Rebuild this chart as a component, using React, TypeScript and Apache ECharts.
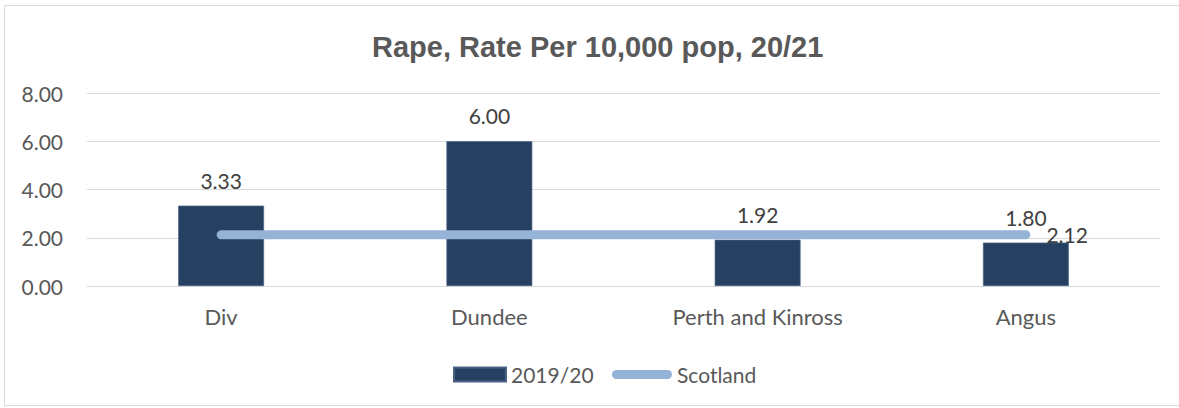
import React, { useEffect, useRef } from "react";
import * as echarts from "echarts";

const titleText = "Rape, Rate Per 10,000 pop, 20/21";
const categories = ["Div", "Dundee", "Perth and Kinross", "Angus"];
const barName = "2019/20";
const barValues = [3.33, 6.0, 1.92, 1.8];
const lineName = "Scotland";
const scotlandValues = [2.12, 2.12, 2.12, 2.12];
const yTicks = { min: 0, max: 8, interval: 2 };

const FONT = "Lato";
const TEXT = "#595959";
const LABEL = "#404040";
const BAR = "#264061";
const LINE = "#95B3D7";
const GRIDC = "#d9d9d9";

export default function App() {
  const ref = useRef<HTMLDivElement>(null);
  useEffect(() => {
    if (!ref.current) return;
    const chart = echarts.init(ref.current, null, { renderer: "svg" });
    const last = scotlandValues.length - 1;
    chart.setOption({
      animation: false,
      backgroundColor: "#ffffff",
      title: {
        text: titleText,
        left: 367,
        top: 27,
        textStyle: { fontFamily: "Liberation Sans", fontWeight: "bold", fontSize: 29, color: TEXT },
      },
      graphic: [
        {
          type: "rect",
          shape: { x: 4.5, y: 5.5, width: 1200, height: 400 },
          style: { fill: "none", stroke: GRIDC, lineWidth: 1 },
          silent: true,
        },
      ],
      legend: [
        {
          data: [{ name: barName, icon: "rect" }],
          left: 448,
          top: 359,
          itemWidth: 52,
          itemHeight: 14,
          textStyle: { fontFamily: FONT, fontSize: 21, color: TEXT },
        },
        {
          data: [{ name: lineName, icon: "path://M4.5,0 L55.5,0 A4.5,4.5 0 0 1 55.5,9 L4.5,9 A4.5,4.5 0 0 1 4.5,0 Z" }],
          left: 607,
          top: 359,
          itemWidth: 60,
          itemHeight: 9,
          textStyle: { fontFamily: FONT, fontSize: 21, color: TEXT },
        },
      ],
      grid: { left: 87, right: 19, top: 93, bottom: 122 },
      xAxis: {
        type: "category",
        data: categories,
        axisTick: { show: false },
        axisLine: { lineStyle: { color: GRIDC, width: 1 } },
        axisLabel: { margin: 19, fontFamily: FONT, fontSize: 22, color: TEXT },
      },
      yAxis: {
        type: "value",
        min: yTicks.min,
        max: yTicks.max,
        interval: yTicks.interval,
        axisLine: { show: false },
        axisTick: { show: false },
        splitLine: { lineStyle: { color: GRIDC, width: 1 } },
        axisLabel: {
          margin: 24,
          fontFamily: FONT,
          fontSize: 21,
          color: TEXT,
          formatter: (v: number) => v.toFixed(2),
        },
      },
      series: [
        {
          name: barName,
          type: "bar",
          data: barValues,
          barWidth: "32%",
          itemStyle: { color: BAR, borderColor: "#4a6385", borderWidth: 0.7 },
          label: {
            show: true,
            position: "top",
            distance: 15,
            fontFamily: FONT,
            fontSize: 21,
            color: LABEL,
            formatter: (p: any) => Number(p.value).toFixed(2),
          },
          z: 2,
        },
        {
          name: lineName,
          type: "line",
          data: scotlandValues.map((v, i) =>
            i === last
              ? {
                  value: v,
                  label: {
                    show: true,
                    position: "right",
                    distance: 20,
                    fontFamily: FONT,
                    fontSize: 21,
                    color: LABEL,
                    formatter: (p: any) => Number(p.value).toFixed(2),
                  },
                }
              : v
          ),
          symbol: "circle",
          symbolSize: 1,
          showSymbol: true,
          color: LINE,
          itemStyle: { color: LINE },
          lineStyle: { color: LINE, width: 9, cap: "round" },
          label: { show: false },
          z: 3,
        },
      ],
    });
    return () => chart.dispose();
  }, []);
  return (
    <div
      ref={ref}
      style={{ position: "fixed", left: 0, top: 0, width: 1179, height: 408 }}
    />
  );
}
